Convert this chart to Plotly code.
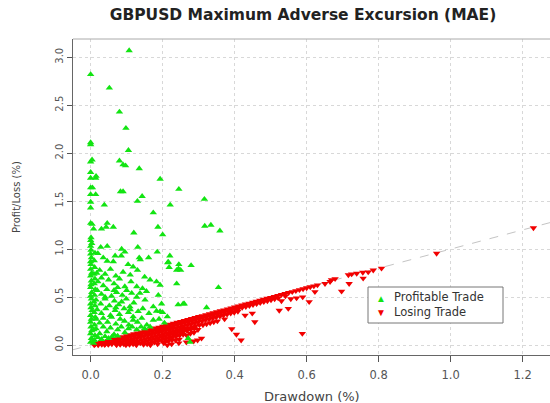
import plotly.graph_objects as go

# ---------------- data ----------------
# Profitable trades: drawdown (%) and profit (%)
profit_dd = [
    0.000, 0.002, 0.000, 0.003, 0.001, 0.000, 0.002, 0.000, 0.004, 0.001, 0.000, 0.002, 0.000, 0.003, 0.000,
    0.001, 0.002, 0.000, 0.003, 0.000, 0.001, 0.000, 0.002, 0.000, 0.001, 0.000, 0.003, 0.000, 0.001,
    0.010, 0.012, 0.009, 0.011, 0.013, 0.010, 0.012, 0.009, 0.011, 0.013, 0.010, 0.012, 0.009, 0.011, 0.010, 0.012,
    0.107, 0.000, 0.052, 0.080, 0.098, 0.000, 0.000, 0.105, 0.004, 0.000, 0.080, 0.090, 0.097, 0.135, 0.000,
    0.000, 0.014, 0.193, 0.015, 0.000, 0.005, 0.245, 0.000, 0.014, 0.083, 0.090, 0.143, 0.130, 0.000, 0.316,
    0.000, 0.038, 0.221, 0.174, 0.000, 0.004, 0.046, 0.008, 0.030, 0.043, 0.063, 0.187, 0.317, 0.334, 0.120,
    0.200, 0.359,
    0.028, 0.046, 0.086, 0.095, 0.131, 0.185, 0.220, 0.135, 0.138, 0.161, 0.020, 0.035, 0.046, 0.068, 0.085,
    0.063, 0.104, 0.118, 0.214, 0.244, 0.218, 0.279, 0.245, 0.239, 0.216, 0.250, 0.239, 0.355, 0.243, 0.260,
    0.322, 0.213, 0.183, 0.271, 0.276, 0.257, 0.156, 0.174, 0.165, 0.183, 0.193, 0.188,
    0.025, 0.040, 0.055, 0.070, 0.090, 0.110, 0.130, 0.150, 0.030, 0.017,
    0.020, 0.035, 0.050, 0.065, 0.080, 0.095, 0.112, 0.128, 0.144, 0.100, 0.075,
    0.018, 0.030, 0.045, 0.058, 0.072, 0.088, 0.114, 0.128, 0.137, 0.155, 0.040, 0.065,
    0.015, 0.028, 0.040, 0.052, 0.066, 0.078, 0.086, 0.099, 0.109, 0.120, 0.151, 0.174, 0.197,
    0.018, 0.030, 0.042, 0.055, 0.068, 0.080, 0.093, 0.105, 0.118, 0.132, 0.145, 0.162, 0.193, 0.200, 0.070, 0.110,
    0.015, 0.025, 0.035, 0.047, 0.058, 0.070, 0.082, 0.094, 0.106, 0.118, 0.130, 0.142, 0.190, 0.205,
    0.015, 0.025, 0.035, 0.045, 0.055, 0.065, 0.075, 0.085, 0.095, 0.105, 0.115, 0.128, 0.140, 0.150, 0.165,
    0.008, 0.010, 0.020, 0.030, 0.040, 0.050, 0.060, 0.075,
]
profit_pl = [
    0.03, 0.07, 0.12, 0.15, 0.19, 0.24, 0.27, 0.31, 0.36, 0.39, 0.43, 0.48, 0.51, 0.55, 0.60,
    0.63, 0.67, 0.72, 0.75, 0.79, 0.84, 0.87, 0.91, 0.95, 0.99, 1.03, 1.06, 1.09, 1.12,
    0.05, 0.10, 0.16, 0.21, 0.29, 0.34, 0.41, 0.45, 0.52, 0.58, 0.64, 0.69, 0.74, 0.81, 0.88, 0.96,
    3.07, 2.82, 2.68, 2.43, 2.26, 2.11, 2.09, 2.03, 1.93, 1.91, 1.92, 1.88, 1.87, 1.84, 1.80,
    1.74, 1.74, 1.73, 1.76, 1.64, 1.64, 1.625, 1.57, 1.57, 1.60, 1.60, 1.55, 1.50, 1.49, 1.52,
    1.43, 1.46, 1.46, 1.38, 1.27, 1.26, 1.27, 1.21, 1.21, 1.23, 1.23, 1.23, 1.24, 1.25, 1.17,
    1.15, 1.19,
    1.02, 1.03, 1.00, 0.97, 1.02, 0.97, 0.93, 0.91, 0.89, 0.91, 0.955, 0.91, 0.875, 0.93, 0.93,
    0.87, 0.84, 0.815, 0.86, 0.795, 0.81, 0.83, 0.84, 0.78, 0.865, 0.78, 0.64, 0.60, 0.42, 0.43,
    0.39, 0.295, 0.354, 0.07, 0.03, 0.43, 0.21, 0.26, 0.68, 0.66, 0.625, 0.52,
    0.78, 0.74, 0.79, 0.72, 0.76, 0.73, 0.78, 0.71, 0.70, 0.75,
    0.66, 0.62, 0.68, 0.64, 0.69, 0.61, 0.66, 0.61, 0.59, 0.57, 0.60,
    0.57, 0.53, 0.58, 0.51, 0.55, 0.52, 0.54, 0.50, 0.54, 0.56, 0.50, 0.57,
    0.47, 0.43, 0.48, 0.41, 0.46, 0.42, 0.45, 0.48, 0.40, 0.44, 0.47, 0.40, 0.43,
    0.37, 0.33, 0.38, 0.31, 0.36, 0.32, 0.38, 0.34, 0.295, 0.35, 0.38, 0.33, 0.35, 0.34, 0.39, 0.37,
    0.27, 0.23, 0.28, 0.24, 0.29, 0.22, 0.27, 0.25, 0.21, 0.26, 0.24, 0.28, 0.27, 0.23,
    0.17, 0.12, 0.19, 0.14, 0.18, 0.11, 0.16, 0.19, 0.13, 0.17, 0.19, 0.16, 0.19, 0.17, 0.19,
    0.02, 0.05, 0.08, 0.06, 0.09, 0.07, 0.09, 0.095,
]

# Losing trades: drawdown (%) and loss (%)
loss_dd = [
    0.010, 0.012, 0.020, 0.021, 0.019, 0.030, 0.031, 0.029, 0.040, 0.041, 0.039, 0.042,
    0.050, 0.051, 0.049, 0.060, 0.061, 0.059, 0.070, 0.071, 0.069, 0.072, 0.080, 0.081, 0.079, 0.082,
    0.090, 0.091, 0.089, 0.092, 0.100, 0.101, 0.099, 0.102, 0.098, 0.110, 0.111, 0.109, 0.112, 0.108,
    0.120, 0.121, 0.119, 0.122, 0.118, 0.130, 0.131, 0.129, 0.132, 0.128, 0.127, 0.140, 0.141, 0.139, 0.142, 0.138,
    0.150, 0.151, 0.149, 0.152, 0.148, 0.147, 0.160, 0.161, 0.159, 0.162, 0.158, 0.157,
    0.170, 0.171, 0.169, 0.172, 0.168, 0.167, 0.166, 0.180, 0.181, 0.179, 0.182, 0.178, 0.177,
    0.190, 0.191, 0.189, 0.192, 0.188, 0.187, 0.186, 0.200, 0.201, 0.199, 0.202, 0.198, 0.197,
    0.203, 0.210, 0.211, 0.209, 0.212, 0.208, 0.207, 0.206, 0.213, 0.220, 0.221, 0.219, 0.222, 0.218, 0.217, 0.216,
    0.230, 0.231, 0.229, 0.232, 0.228, 0.227, 0.226, 0.225, 0.240, 0.241, 0.239, 0.242, 0.238, 0.237, 0.236,
    0.250, 0.251, 0.249, 0.252, 0.248, 0.247, 0.246, 0.245, 0.260, 0.261, 0.259, 0.262, 0.258, 0.257,
    0.270, 0.271, 0.269, 0.272, 0.268, 0.267, 0.266, 0.280, 0.281, 0.279, 0.282, 0.278,
    0.277, 0.290, 0.291, 0.289, 0.292, 0.288, 0.287, 0.286, 0.300, 0.301, 0.299, 0.302, 0.298, 0.297,
    0.310, 0.311, 0.309, 0.312, 0.308, 0.320, 0.321, 0.319, 0.322, 0.330, 0.331, 0.329, 0.332,
    0.340, 0.341, 0.339, 0.342, 0.350, 0.351, 0.349, 0.352, 0.360, 0.361, 0.359, 0.370, 0.371, 0.369, 0.372,
    0.380, 0.381, 0.379, 0.390, 0.391, 0.389, 0.392, 0.400, 0.401, 0.399, 0.410, 0.411, 0.409, 0.405,
    0.420, 0.421, 0.418, 0.430, 0.431, 0.429, 0.440, 0.441, 0.450, 0.451, 0.449, 0.456,
    0.460, 0.461, 0.470, 0.471, 0.480, 0.481, 0.490, 0.491, 0.500, 0.501, 0.510, 0.511,
    0.520, 0.521, 0.524, 0.530, 0.530, 0.540, 0.541, 0.549, 0.550, 0.556, 0.560, 0.572, 0.570,
    0.580, 0.589, 0.588, 0.590, 0.600, 0.607, 0.610, 0.620, 0.623, 0.630,
    0.651, 0.665, 0.669, 0.679, 0.697, 0.716, 0.718, 0.725, 0.739, 0.756, 0.757, 0.771, 0.785, 0.808, 0.961, 1.230,
]
loss_pl = [
    0.000, 0.008, 0.010, 0.001, 0.017, 0.020, 0.005, 0.027, 0.030, 0.012, 0.002, 0.038,
    0.045, 0.020, 0.005, 0.055, 0.035, 0.010, 0.065, 0.040, 0.015, 0.001, 0.075, 0.050, 0.025, 0.005,
    0.085, 0.060, 0.030, 0.010, 0.095, 0.070, 0.045, 0.020, 0.000, 0.105, 0.080, 0.050, 0.025, 0.005,
    0.115, 0.090, 0.060, 0.035, 0.010, 0.125, 0.100, 0.070, 0.040, 0.015, 0.000, 0.135, 0.110, 0.080, 0.050, 0.020,
    0.145, 0.120, 0.090, 0.060, 0.030, 0.005, 0.155, 0.130, 0.100, 0.070, 0.040, 0.010,
    0.165, 0.140, 0.110, 0.080, 0.050, 0.020, 0.000, 0.175, 0.150, 0.120, 0.090, 0.060, 0.030,
    0.185, 0.160, 0.130, 0.100, 0.070, 0.040, 0.010, 0.195, 0.170, 0.140, 0.110, 0.080, 0.050,
    0.020, 0.205, 0.180, 0.150, 0.120, 0.090, 0.060, 0.030, 0.000, 0.215, 0.190, 0.160, 0.130, 0.100, 0.070, 0.040,
    0.225, 0.200, 0.170, 0.140, 0.110, 0.080, 0.050, 0.010, 0.235, 0.210, 0.180, 0.150, 0.120, 0.090, 0.050,
    0.245, 0.220, 0.190, 0.160, 0.130, 0.100, 0.060, 0.020, 0.255, 0.230, 0.200, 0.170, 0.140, 0.110,
    0.265, 0.240, 0.210, 0.180, 0.150, 0.100, 0.030, 0.275, 0.250, 0.220, 0.190, 0.160,
    0.120, 0.285, 0.260, 0.230, 0.200, 0.170, 0.130, 0.040, 0.295, 0.270, 0.240, 0.210, 0.160, 0.050,
    0.305, 0.280, 0.250, 0.210, 0.070, 0.315, 0.290, 0.260, 0.220, 0.325, 0.300, 0.270, 0.230,
    0.335, 0.310, 0.280, 0.240, 0.345, 0.320, 0.290, 0.250, 0.355, 0.330, 0.300, 0.365, 0.340, 0.310, 0.270,
    0.375, 0.350, 0.320, 0.385, 0.360, 0.330, 0.167, 0.395, 0.370, 0.340, 0.405, 0.380, 0.350, 0.110,
    0.415, 0.390, 0.050, 0.425, 0.400, 0.310, 0.435, 0.410, 0.445, 0.420, 0.330, 0.240,
    0.455, 0.430, 0.465, 0.440, 0.475, 0.450, 0.485, 0.460, 0.495, 0.470, 0.505, 0.480,
    0.515, 0.490, 0.360, 0.525, 0.460, 0.535, 0.510, 0.380, 0.545, 0.480, 0.555, 0.490, 0.565,
    0.575, 0.500, 0.120, 0.585, 0.595, 0.450, 0.605, 0.615, 0.555, 0.625,
    0.640, 0.660, 0.680, 0.690, 0.560, 0.730, 0.640, 0.740, 0.746, 0.757, 0.695, 0.760, 0.780, 0.800, 0.955, 1.220,
]

x_ticks = [0.0, 0.2, 0.4, 0.6, 0.8, 1.0, 1.2]
y_ticks = [0.0, 0.5, 1.0, 1.5, 2.0, 2.5, 3.0]
diag_span = [-0.1, 1.4]   # y = x reference line

TITLE = "GBPUSD Maximum Adverse Excursion (MAE)"
XLAB = "Drawdown (%)"
YLAB = "Profit/Loss (%)"
LEGEND_LABELS = ["Profitable Trade", "Losing Trade"]

GREEN = "#12e412"
RED = "#f20000"

# ---------------- figure ----------------
FONT = "DejaVu Sans"
W, H = 550, 403
ML, MT, MB, MR = 73, 39, 48, 0
PW, PH = W - ML - MR, H - MT - MB

def px_x(p):   # pixel column -> paper x
    return (p - ML) / PW

def px_y(p):   # pixel row -> paper y
    return (H - MB - p) / PH

fig = go.Figure()

fig.add_trace(go.Scatter(
    x=diag_span, y=diag_span, mode="lines",
    line=dict(color="#c4c4c4", width=1, dash="dash"),
    showlegend=False, hoverinfo="skip"))

fig.add_trace(go.Scatter(
    x=loss_dd, y=loss_pl, mode="markers", name=LEGEND_LABELS[1],
    marker=dict(symbol="triangle-down", size=6.5, color=RED, line=dict(width=0)),
    showlegend=False))

fig.add_trace(go.Scatter(
    x=profit_dd, y=profit_pl, mode="markers", name=LEGEND_LABELS[0],
    marker=dict(symbol="triangle-up", size=6.5, color=GREEN, line=dict(width=0)),
    showlegend=False))

axis_common = dict(
    showgrid=True, gridcolor="#d8d8d8", griddash="dot", gridwidth=1,
    zeroline=False, ticks="outside", tickcolor="#555",
    showline=True, linecolor="#666", linewidth=1.2,
)

fig.update_xaxes(range=[-0.049, 1.276], tickvals=x_ticks,
                 ticktext=[f"{v:.1f}" for v in x_ticks], ticklen=6,
                 tickfont=dict(family=FONT, size=11.5, color="#555"),
                 ticklabelstandoff=3, **axis_common)
fig.update_yaxes(range=[-0.104, 3.19], tickvals=y_ticks,
                 ticktext=[f"{v:.1f}" for v in y_ticks], ticklen=5,
                 tickfont=dict(family=FONT, size=10, color="#555"),
                 tickangle=-90, ticklabelstandoff=0, **axis_common)

# manual legend (box + symbols + labels)
leg_annots = [
    dict(text="▲", x=px_x(381), y=px_y(297.5), xanchor="center",
         font=dict(size=10, color=GREEN)),
    dict(text="▼", x=px_x(381), y=px_y(311.5), xanchor="center",
         font=dict(size=10, color=RED)),
    dict(text="<br>".join(LEGEND_LABELS), x=px_x(392), y=px_y(304.5),
         xanchor="left", align="left",
         font=dict(family=FONT, size=11.5, color="#333")),
]
for a in leg_annots:
    a.update(xref="paper", yref="paper", yanchor="middle", showarrow=False)

fig.update_layout(
    width=W, height=H,
    margin=dict(l=ML, r=MR, t=MT, b=MB),
    plot_bgcolor="white", paper_bgcolor="white",
    title=dict(text=f"<b>{TITLE}</b>", x=px_x(303), xref="paper", xanchor="center",
               y=1 - 15 / H, yref="container", yanchor="middle",
               font=dict(family=FONT, size=15.5, color="#222")),
    showlegend=False,
    annotations=[
        dict(text=XLAB, xref="paper", yref="paper", x=0.5, y=px_y(396),
             xanchor="center", yanchor="middle", showarrow=False,
             font=dict(family=FONT, size=13, color="#444")),
        dict(text=YLAB, xref="paper", yref="paper", x=px_x(16), y=0.5,
             xanchor="center", yanchor="middle", showarrow=False, textangle=-90,
             font=dict(family=FONT, size=10, color="#444")),
    ] + leg_annots,
    shapes=[
        dict(type="line", xref="paper", yref="paper", x0=0, x1=1, y0=1, y1=1,
             line=dict(color="#aaa", width=1)),
        dict(type="rect", xref="paper", yref="paper",
             x0=px_x(368), x1=px_x(503), y0=px_y(323), y1=px_y(287),
             line=dict(color="#777", width=1), fillcolor="white", layer="above"),
    ],
)

fig.write_html("out.html", config={"displayModeBar": False},
               post_script="document.body.style.margin='0';document.body.style.padding='0';")
